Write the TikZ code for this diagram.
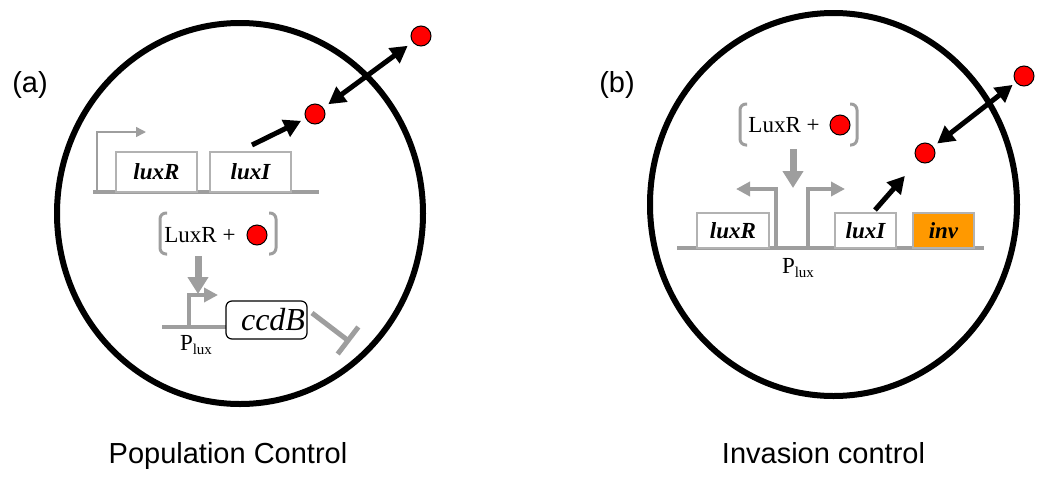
\documentclass[tikz,border=0pt]{standalone}
\usepackage{fontspec}
\setmainfont{Liberation Serif}
\setsansfont{Liberation Sans}
\usepackage{tikz}
\usetikzlibrary{arrows.meta,positioning}

\definecolor{dnagray}{RGB}{158,158,158}
\definecolor{boxgray}{RGB}{178,178,178}
\definecolor{invorange}{RGB}{255,153,0}
\definecolor{molred}{RGB}{255,0,0}

\newcommand{\genefont}{\fontsize{23}{23}\selectfont\bfseries\itshape}
\newcommand{\capfont}{\fontsize{29}{29}\selectfont\sffamily}
\newcommand{\cplxfont}{\fontsize{23}{23}\selectfont}
\newcommand{\plux}{P\raisebox{-0.35ex}{\fontsize{15}{15}\selectfont lux}}

\tikzset{
  cell/.style={draw=black, line width=6pt},
  dna/.style={draw=dnagray, line width=4pt},
  genebox/.style={draw=boxgray, fill=white, line width=2.7pt, inner sep=0pt, font=\genefont},
  mol/.style={circle, draw=black, line width=1pt, fill=molred, minimum size=20pt, inner sep=0pt},
  prodarrow/.style={draw=black, line width=5pt, -{Triangle[length=17pt,width=18pt]}},
  transport/.style={draw=black, line width=5pt, {Triangle[length=17pt,width=18pt]}-{Triangle[length=17pt,width=18pt]}},
  prom/.style={draw=dnagray, line width=4.5pt, -{Triangle[length=14pt,width=14pt]}},
  induce/.style={draw=dnagray, line width=7pt, -{Triangle[length=17pt,width=20pt]}},
  inhibit/.style={draw=dnagray, line width=5pt, -{Bar[width=34pt]}},
  cplxbracket/.style={draw=dnagray, line width=3pt, rounded corners=6pt},
}

\begin{document}
\begin{tikzpicture}[x=1pt,y=-1pt]
\useasboundingbox (0,0) rectangle (1050,483);

% (a) population control
\draw[cell] (240,213.5) ellipse [x radius=183pt, y radius=190.5pt];
\node[font=\capfont] (labA) at (30,85) {(a)};
\node[font=\capfont, anchor=base] (capA) at (228,463) {Population Control};

\draw[dna] (93,192) -- (319,192);
\coordinate (pRa) at (97,192);
\coordinate (pRaTip) at (146,132);
\draw[draw=dnagray, line width=1.5pt, -{Triangle[length=10pt,width=10pt]}] (pRa) |- (pRaTip);
\node[genebox, minimum width=81pt, minimum height=40pt] (luxRa) at (156.5,172) {luxR};
\node[genebox, minimum width=81pt, minimum height=40pt] (luxIa) at (250.5,172) {luxI\hspace{8pt}};

\node[mol] (molInA) at (315,114) {};
\node[mol] (molOutA) at (421,36) {};
\coordinate (synA) at (252,145);
\draw[prodarrow, shorten >=5pt] (synA) -- (molInA);
\draw[transport, shorten <=6pt, shorten >=6pt] (molInA) -- (molOutA);

\node[font=\cplxfont] (cplxA) at (200,235) {LuxR +};
\node[mol] (molCA) at (257,235) {};
\draw[cplxbracket] (167,213) -- (160,213) -- (160,254) -- (167,254);
\draw[cplxbracket] (269,213) -- (276,213) -- (276,254) -- (269,254);
\coordinate (indA) at (198,256);
\coordinate (indAtip) at (198,294);
\draw[induce] (indA) -- (indAtip);

\draw[dna] (162,327) -- (227,327);
\coordinate (pLa) at (189,327);
\coordinate (pLaTip) at (218,295);
\draw[prom] (pLa) |- (pLaTip);
\node[draw=black, line width=1.2pt, rounded corners=6pt, fill=white, minimum width=81pt, minimum height=38pt,
  inner xsep=2pt, text width=77pt, align=right, font=\fontsize{32}{32}\selectfont\itshape] (ccdB) at (266.5,320) {ccdB};
\node[font=\cplxfont] (pluxA) at (196,345) {\plux};
\coordinate (killA) at (312,313);
\coordinate (killAend) at (350,342);
\draw[inhibit] (killA) -- (killAend);

% (b) invasion control
\draw[cell] (833.5,204.5) ellipse [x radius=183.5pt, y radius=191.5pt];
\node[font=\capfont] (labB) at (617,85) {(b)};
\node[font=\capfont, anchor=base] (capB) at (823.5,463) {Invasion control};

\draw[dna] (677,248) -- (984,248);
\node[genebox, minimum width=72pt, minimum height=35pt] (luxRb) at (733,230.5) {luxR};
\node[genebox, minimum width=61pt, minimum height=35pt] (luxIb) at (865.5,230.5) {luxI};
\node[genebox, fill=invorange, minimum width=61pt, minimum height=35pt] (invb) at (943.5,230.5) {inv};

\coordinate (pLb) at (776,248);
\coordinate (pLbTip) at (736,189);
\coordinate (pRb) at (808,248);
\coordinate (pRbTip) at (845,189);
\draw[prom] (pLb) |- (pLbTip);
\draw[prom] (pRb) |- (pRbTip);
\node[font=\cplxfont] (pluxB) at (798,268) {\plux};

\node[font=\cplxfont] (cplxB) at (784,125) {LuxR +};
\node[mol] (molCB) at (840,125) {};
\draw[cplxbracket] (747,104) -- (740,104) -- (740,145) -- (747,145);
\draw[cplxbracket] (850,104) -- (857,104) -- (857,145) -- (850,145);
\coordinate (indB) at (793,149);
\coordinate (indBtip) at (793,188);
\draw[induce] (indB) -- (indBtip);

\node[mol] (molInB) at (925,153) {};
\node[mol] (molOutB) at (1024,76) {};
\coordinate (synB) at (875,210);
\draw[prodarrow, shorten >=20pt] (synB) -- (molInB);
\draw[transport, shorten <=5pt, shorten >=4pt] (molInB) -- (molOutB);
\end{tikzpicture}
\end{document}
